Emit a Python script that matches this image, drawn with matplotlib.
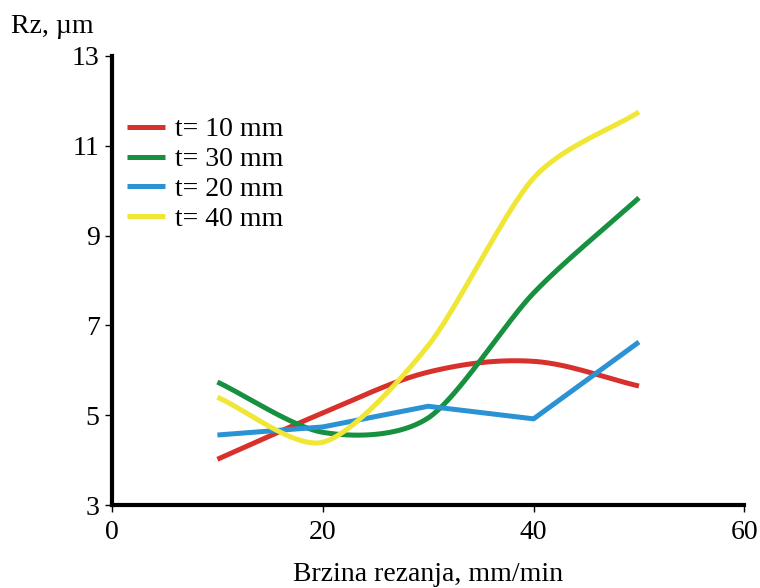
import numpy as np
import matplotlib.pyplot as plt

plt.rcParams['font.family'] = ['Liberation Serif', 'DejaVu Serif']

speed = [10, 20, 30, 40, 50]
rz_t10 = [4.02, 5.05, 5.96, 6.2, 5.65]
rz_t30 = [5.74, 4.62, 4.94, 7.72, 9.84]
rz_t20 = [4.56, 4.74, 5.2, 4.92, 6.63]
rz_t40 = [5.4, 4.4, 6.55, 10.28, 11.75]


def smooth(x, y, k=0.5, n=40):
    # cardinal spline through the points (smoothed line)
    x = np.asarray(x, float)
    y = np.asarray(y, float)
    px = np.concatenate([[2*x[0]-x[1]], x, [2*x[-1]-x[-2]]])
    py = np.concatenate([[2*y[0]-y[1]], y, [2*y[-1]-y[-2]]])
    t = np.linspace(0, 1, n)
    h00 = 2*t**3 - 3*t**2 + 1
    h10 = t**3 - 2*t**2 + t
    h01 = -2*t**3 + 3*t**2
    h11 = t**3 - t**2
    xs, ys = [], []
    for i in range(1, len(px)-2):
        for p, out in ((px, xs), (py, ys)):
            m1 = k*(p[i+1]-p[i-1])
            m2 = k*(p[i+2]-p[i])
            out.extend(h00*p[i] + h10*m1 + h01*p[i+1] + h11*m2)
    return xs, ys


fig = plt.figure(figsize=(7.6, 5.88), dpi=100)
ax = fig.add_axes([0.1474, 0.141, 0.832, 0.764])

lw = 3.6
ax.plot(*smooth(speed, rz_t10, 0.5), color='#d8312b', lw=lw, label='t= 10 mm', solid_capstyle='butt')
ax.plot(*smooth(speed, rz_t30, 0.42), color='#17903f', lw=lw, label='t= 30 mm', solid_capstyle='butt')
ax.plot(speed, rz_t20, color='#2b92d3', lw=lw, label='t= 20 mm', solid_capstyle='butt')
ax.plot(*smooth(speed, rz_t40, 0.4), color='#f0e635', lw=lw, label='t= 40 mm', solid_capstyle='butt')

ax.set_xlim(0, 60)
ax.set_ylim(3, 13)
ax.set_xticks([0, 20, 40, 60])
ax.set_yticks([3, 5, 7, 9, 11, 13])
for s in ['top', 'right']:
    ax.spines[s].set_visible(False)
for s in ['left', 'bottom']:
    ax.spines[s].set_linewidth(3)
ax.tick_params(labelsize=20, length=5, width=1)
ax.tick_params(axis='y', pad=4)
ax.tick_params(axis='x', pad=6)

ax.set_xlabel('Brzina rezanja, mm/min', fontsize=20, labelpad=12)
fig.text(0.015, 0.944, 'Rz, µm', fontsize=20, va='baseline')

ax.legend(loc='upper left', bbox_to_anchor=(0.024, 0.864), frameon=False,
          fontsize=20, handlelength=1.37, handletextpad=0.36, labelspacing=0.16,
          borderaxespad=0, borderpad=0)

fig.savefig('out.png', dpi=100)
